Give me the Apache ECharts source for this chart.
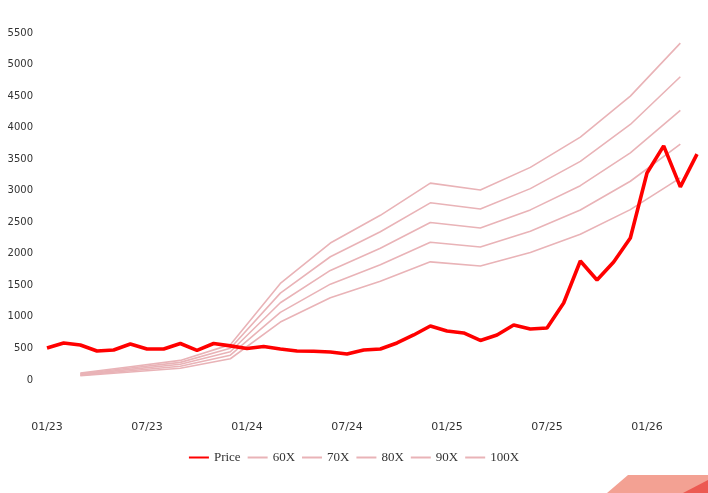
<!DOCTYPE html>
<html>
<head>
<meta charset="utf-8">
<script src="https://cdn.jsdelivr.net/npm/echarts@6/dist/echarts.min.js"></script>
<style>
  html, body { margin: 0; padding: 0; background: #fff; }
  #chart { width: 708px; height: 493px; }
</style>
</head>
<body>
<div id="chart"></div>
<script>
// monthly price, 01/23 .. 04/26
const months = [
  '01/23', '02/23', '03/23', '04/23', '05/23', '06/23', '07/23', '08/23', '09/23', '10/23', '11/23', '12/23',
  '01/24', '02/24', '03/24', '04/24', '05/24', '06/24', '07/24', '08/24', '09/24', '10/24', '11/24', '12/24',
  '01/25', '02/25', '03/25', '04/25', '05/25', '06/25', '07/25', '08/25', '09/25', '10/25', '11/25', '12/25',
  '01/26', '02/26', '03/26', '04/26'
]
const price = [
  507, 586, 555, 460, 476, 570, 491, 491, 578, 468, 578, 540,
  500, 530, 492, 460, 455, 444, 412, 476, 491, 586, 713, 856,
  777, 745, 626, 713, 872, 808, 824, 1220, 1886, 1585, 1870, 2250,
  3280, 3710, 3060, 3580
]

// quarterly multiple bands
const quarters = ['03/23', '06/23', '09/23', '12/23', '03/24', '06/24', '09/24', '12/24', '03/25', '06/25', '09/25', '12/25', '03/26']
const x60 = [66, 126, 186, 336, 918, 1302, 1566, 1872, 1806, 2022, 2310, 2700, 3204]
const x70 = [77, 147, 217, 392, 1071, 1519, 1827, 2184, 2107, 2359, 2695, 3150, 3738]
const x80 = [88, 168, 248, 448, 1224, 1736, 2088, 2496, 2408, 2696, 3080, 3600, 4272]
const x90 = [99, 189, 279, 504, 1377, 1953, 2349, 2808, 2709, 3033, 3465, 4050, 4806]
const x100 = [110, 210, 310, 560, 1530, 2170, 2610, 3120, 3010, 3370, 3850, 4500, 5340]

const bandColor = '#e9b3b7'

function band(name, values) {
  return {
    name: name,
    type: 'line',
    symbol: 'none',
    z: 1,
    itemStyle: { color: bandColor },
    lineStyle: { color: bandColor, width: 1.6 },
    data: quarters.map((q, i) => [q, values[i]])
  }
}

const chart = echarts.init(document.getElementById('chart'))

chart.setOption({
  animation: false,
  grid: {
    left: 47,
    right: 11,
    top: 33,
    bottom: 81.5,
    outerBoundsMode: 'none'
  },
  legend: {
    left: 'center',
    top: 446,
    icon: 'rect',
    itemWidth: 20,
    itemHeight: 2,
    itemGap: 7,
    textStyle: {
      fontFamily: 'Liberation Serif',
      fontSize: 13,
      color: '#333'
    },
    data: ['Price', '60X', '70X', '80X', '90X', '100X']
  },
  xAxis: {
    type: 'category',
    boundaryGap: false,
    data: months,
    axisLine: { show: false },
    axisTick: { show: false },
    axisLabel: {
      interval: 5,
      margin: 10,
      fontFamily: 'DejaVu Sans',
      fontSize: 11,
      color: '#333'
    }
  },
  yAxis: {
    type: 'value',
    min: -500,
    max: 5500,
    interval: 500,
    splitLine: { show: false },
    axisLine: { show: false },
    axisTick: { show: false },
    axisLabel: {
      margin: 14,
      fontFamily: 'DejaVu Sans',
      fontSize: 10,
      color: '#333',
      formatter: (v) => (v < 0 ? '' : String(v))
    }
  },
  series: [
    {
      name: 'Price',
      type: 'line',
      symbol: 'none',
      z: 3,
      itemStyle: { color: '#ff0000' },
      lineStyle: { color: '#ff0000', width: 3.6 },
      data: price
    },
    band('60X', x60),
    band('70X', x70),
    band('80X', x80),
    band('90X', x90),
    band('100X', x100)
  ],
  graphic: [
    {
      type: 'polygon',
      shape: { points: [[607, 493], [628, 475], [708, 475], [708, 493]] },
      style: { fill: '#f3a193' }
    },
    {
      type: 'polygon',
      shape: { points: [[683, 493], [708, 480], [708, 493]] },
      style: { fill: '#ec5a52' }
    }
  ]
})
</script>
</body>
</html>
